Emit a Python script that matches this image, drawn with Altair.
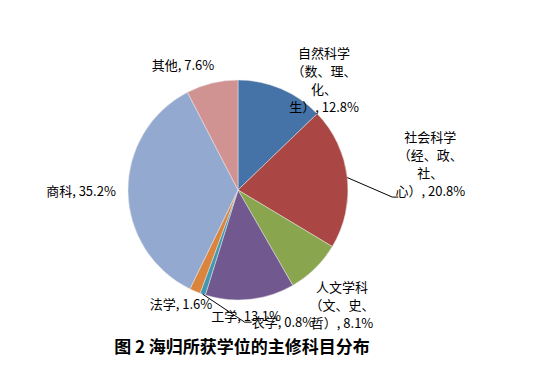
import altair as alt
import pandas as pd

categories = ["自然科学（数、理、化、生）", "社会科学（经、政、社、心）", "人文学科（文、史、哲）",
              "工学", "农学", "法学", "商科", "其他"]
values = [12.8, 20.8, 8.1, 13.1, 0.8, 1.6, 35.2, 7.6]
labels = ["自然科学\n（数、理、\n化、\n生）, 12.8%",
          "社会科学\n（经、政、\n社、\n心）, 20.8%",
          "人文学科\n（文、史、\n哲）, 8.1%",
          "工学, 13.1%", "农学, 0.8%", "法学, 1.6%", "商科, 35.2%", "其他, 7.6%"]
colors = ["#4572A7", "#AA4643", "#89A54E", "#71588F", "#4198AF", "#DB843D", "#93A9CF", "#D19392"]

df = pd.DataFrame({"cat": categories, "value": values, "label": labels,
                   "idx": list(range(len(categories)))})

W, H, R = 460, 300, 110
FONT = "Noto Sans CJK SC"

base = alt.Chart(df)

pie = base.mark_arc(outerRadius=R, stroke="#e8e8e8", strokeWidth=0.5).encode(
    theta=alt.Theta("value:Q", stack=True),
    order=alt.Order("idx:Q"),
    color=alt.Color("cat:N", scale=alt.Scale(domain=categories, range=colors), legend=None),
)

anch = base.transform_window(
    cum="sum(value)", sort=[alt.SortField("idx")]
).transform_joinaggregate(total="sum(value)").transform_calculate(
    mid="(datum.cum - datum.value/2) / datum.total * 2 * PI",
).transform_calculate(
    ax=f"{W/2} + {R} * sin(datum.mid)",
    ay=f"{H/2} - {R} * cos(datum.mid)",
)

# label offsets from the slice's outer mid point (dx, dy of first line, align)
offsets = {
    categories[0]: (43, -35, "center"),
    categories[1]: (83, -40, "center"),
    categories[2]: (27, 19, "center"),
    categories[3]: (-4, 18, "center"),
    categories[4]: (49, 29, "left"),
    categories[5]: (-14, 14, "center"),
    categories[6]: (-47, 1, "center"),
    categories[7]: (-29, -17, "center"),
}

layers = [pie]
for c, (dx, dy, al) in offsets.items():
    layers.append(
        anch.transform_filter(alt.datum.cat == c).mark_text(
            dx=dx, dy=dy, align=al, baseline="middle", lineBreak="\n",
            font=FONT, fontSize=13, lineHeight=18, color="#000000"
        ).encode(
            x=alt.X("ax:Q", scale=None, axis=None),
            y=alt.Y("ay:Q", scale=None, axis=None),
            text="label:N",
        )
    )

# leader lines: (category, bend dx, bend dy, horizontal length)
leaders = [(categories[1], 45, 19.5, 6), (categories[4], 42, 28, 7)]
for c, bx, by, hl in leaders:
    seg = anch.transform_filter(alt.datum.cat == c).transform_calculate(
        bxp=f"datum.ax + {bx}", byp=f"datum.ay + {by}", hxp=f"datum.ax + {bx + hl}"
    )
    layers.append(seg.mark_rule(color="#000000", strokeWidth=1).encode(
        x=alt.X("ax:Q", scale=None, axis=None), y=alt.Y("ay:Q", scale=None, axis=None),
        x2="bxp:Q", y2="byp:Q"))
    layers.append(seg.mark_rule(color="#000000", strokeWidth=1).encode(
        x=alt.X("bxp:Q", scale=None, axis=None), y=alt.Y("byp:Q", scale=None, axis=None),
        x2="hxp:Q", y2="byp:Q"))

chart = alt.layer(*layers).properties(
    width=W, height=H,
    autosize=alt.AutoSizeParams(type="none"),
    padding={"left": 0, "top": 32, "right": 50, "bottom": 30},
    title=alt.TitleParams("图 2 海归所获学位的主修科目分布", orient="bottom", anchor="middle",
                          font=FONT, fontSize=17, fontWeight="bold", color="#000000",
                          offset=0, dx=4),
).configure_view(stroke=None)

chart.save("out.html", embed_options={"renderer": "svg", "actions": False})
